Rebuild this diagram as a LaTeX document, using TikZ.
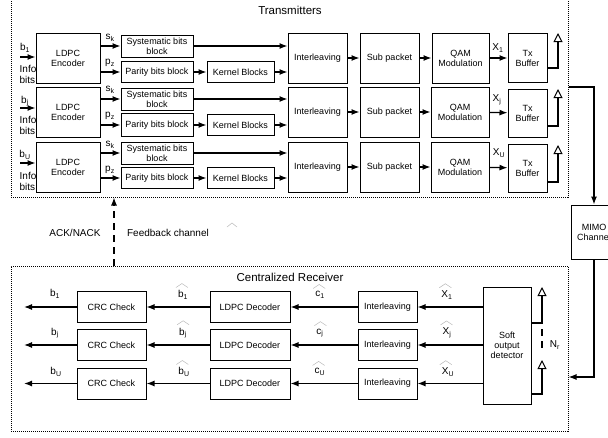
\documentclass[tikz,border=0pt]{standalone}
\usepackage{fontspec}
\setmainfont{Liberation Sans}
\usetikzlibrary{arrows.meta}
\tikzset{
  blk/.style={draw,line width=1pt,align=center,inner sep=1pt,font=\fontsize{9}{10}\selectfont},
  lbl/.style={inner sep=0pt,font=\fontsize{10}{11}\selectfont},
  frame/.style={draw,densely dotted,line width=1pt,inner sep=0pt},
  ant/.style={line width=1.1pt,-{Triangle[open,length=9pt,width=9pt,line width=1pt]}},
  hatln/.style={draw=gray!55,line width=0.5pt},
}
\begin{document}
\begin{tikzpicture}[x=1pt,y=-1pt,>={Latex[length=8pt,width=6pt]},line width=1.2pt]
    \clip (0,0) rectangle (608,437);
    %%% frames
    \node[frame,minimum width=557pt,minimum height=198pt] (tx) at (289.5,98) {};
    \node[frame,minimum width=557pt,minimum height=165pt] (rx) at (289.5,348.5) {};
    \node at (290,10) [font=\fontsize{11.5}{12}\selectfont] {Transmitters};
    \node at (290,277) [font=\fontsize{11.5}{12}\selectfont] {Centralized Receiver};
    %% Transmitter row 1
    \node at (68,58) [blk,minimum width=64pt,minimum height=50pt] (enc1) {LDPC\\Encoder};
    \node at (157,46) [blk,minimum width=72pt,minimum height=22pt] (sys1) {Systematic bits\\block};
    \node at (157,72) [blk,minimum width=72pt,minimum height=21pt] (par1) {Parity bits block};
    \node at (240.5,72) [blk,minimum width=67pt,minimum height=21pt] (ker1) {Kernel Blocks};
    \node at (317.5,58) [blk,minimum width=59pt,minimum height=50pt] (int1) {Interleaving};
    \node at (389.5,58) [blk,minimum width=59pt,minimum height=50pt] (sub1) {Sub packet};
    \node at (460.5,58) [blk,minimum width=57pt,minimum height=50pt] (qam1) {QAM\\Modulation};
    \node at (527.5,58) [blk,minimum width=39pt,minimum height=49pt] (buf1) {Tx\\Buffer};
    \coordinate (in1) at (20,57);
    \coordinate (a1) at (558,33);
    \node at (25,48) [lbl] {b\textsubscript{1}};
    \node at (28,74) [lbl,align=left] {Info\\bits};
    \node at (110,38) [lbl] {s\textsubscript{k}};
    \node at (110,63) [lbl] {p\textsubscript{z}};
    \node at (498,48) [lbl] {X\textsubscript{1}};
    % row 2
    \node at (68,112) [blk,minimum width=64pt,minimum height=50pt] (enc2) {LDPC\\Encoder};
    \node at (157,99) [blk,minimum width=72pt,minimum height=22pt] (sys2) {Systematic bits\\block};
    \node at (157,125) [blk,minimum width=72pt,minimum height=23pt] (par2) {Parity bits block};
    \node at (240.5,125) [blk,minimum width=67pt,minimum height=21pt] (ker2) {Kernel Blocks};
    \node at (317.5,112) [blk,minimum width=59pt,minimum height=50pt] (int2) {Interleaving};
    \node at (389.5,112) [blk,minimum width=59pt,minimum height=50pt] (sub2) {Sub packet};
    \node at (460,112) [blk,minimum width=58pt,minimum height=50pt] (qam2) {QAM\\Modulation};
    \node at (527.5,113) [blk,minimum width=39pt,minimum height=48pt] (buf2) {Tx\\Buffer};
    \coordinate (in2) at (20,108);
    \coordinate (a2) at (558,89);
    \node at (25,101) [lbl] {b\textsubscript{j}};
    \node at (28,125) [lbl,align=left] {Info\\bits};
    \node at (110,90) [lbl] {s\textsubscript{k}};
    \node at (110,116) [lbl] {p\textsubscript{z}};
    \node at (497,100) [lbl] {X\textsubscript{j}};
    % row 3
    \node at (68,167) [blk,minimum width=64pt,minimum height=50pt] (enc3) {LDPC\\Encoder};
    \node at (157,153) [blk,minimum width=72pt,minimum height=22pt] (sys3) {Systematic bits\\block};
    \node at (157,178) [blk,minimum width=72pt,minimum height=21pt] (par3) {Parity bits block};
    \node at (240.5,178) [blk,minimum width=67pt,minimum height=21pt] (ker3) {Kernel Blocks};
    \node at (317.5,167) [blk,minimum width=59pt,minimum height=50pt] (int3) {Interleaving};
    \node at (389.5,167) [blk,minimum width=59pt,minimum height=50pt] (sub3) {Sub packet};
    \node at (460,167) [blk,minimum width=58pt,minimum height=50pt] (qam3) {QAM\\Modulation};
    \node at (527.5,168) [blk,minimum width=39pt,minimum height=48pt] (buf3) {Tx\\Buffer};
    \coordinate (in3) at (20,163);
    \coordinate (a3) at (558,145);
    \node at (25,155) [lbl] {b\textsubscript{U}};
    \node at (28,181) [lbl,align=left] {Info\\bits};
    \node at (110,145) [lbl] {s\textsubscript{k}};
    \node at (110,170) [lbl] {p\textsubscript{z}};
    \node at (499,153) [lbl] {X\textsubscript{U}};
    %% channel and feedback
    \node at (594,232) [blk,minimum width=46pt,minimum height=54pt] (mimo) {MIMO\\Channel};
    \coordinate (fbx) at (114,230);
    \node at (75,233) [lbl] {ACK/NACK};
    \node at (168,233) [lbl] {Feedback channel};
    \draw[hatln] (227,227) -- ++(5,-4) -- ++(5,4);
    %% Receiver
    \node at (507,345.5) [blk,minimum width=48pt,minimum height=117pt] (det) {Soft\\output\\detector};
    \node at (387.5,307) [blk,minimum width=59pt,minimum height=31pt] (rint1) {Interleaving};
    \node at (250,307) [blk,minimum width=80pt,minimum height=31pt] (dec1) {LDPC Decoder};
    \node at (111.5,307) [blk,minimum width=69pt,minimum height=31pt] (crc1) {CRC Check};
    \node at (387.5,345) [blk,minimum width=59pt,minimum height=31pt] (rint2) {Interleaving};
    \node at (250,345) [blk,minimum width=80pt,minimum height=31pt] (dec2) {LDPC Decoder};
    \node at (111.5,345) [blk,minimum width=69pt,minimum height=31pt] (crc2) {CRC Check};
    \node at (387.5,383.5) [blk,minimum width=59pt,minimum height=31pt] (rint3) {Interleaving};
    \node at (250,383.5) [blk,minimum width=80pt,minimum height=31pt] (dec3) {LDPC Decoder};
    \node at (111.5,383.5) [blk,minimum width=69pt,minimum height=31pt] (crc3) {CRC Check};
    \coordinate (o1) at (24,307);
    \coordinate (o2) at (24,345);
    \coordinate (o3) at (24,383.5);
    \coordinate (r1) at (542,287);
    \coordinate (r2) at (542,360);
    \node at (447,295) [lbl] (xh1) {X\textsubscript{1}};
    \node at (447,333) [lbl] (xh2) {X\textsubscript{j}};
    \node at (448,372) [lbl] (xh3) {X\textsubscript{U}};
    \node at (320,295) [lbl] (ch1) {c\textsubscript{1}};
    \node at (320,333) [lbl] (ch2) {c\textsubscript{j}};
    \node at (320,372) [lbl] (ch3) {c\textsubscript{U}};
    \node at (183,295) [lbl] (bh1) {b\textsubscript{1}};
    \node at (183,333) [lbl] (bh2) {b\textsubscript{j}};
    \node at (184,372) [lbl] (bh3) {b\textsubscript{U}};
    \foreach \h in {xh1,xh2,xh3,ch1,ch2,ch3,bh1,bh2,bh3}
      \draw[hatln] ([shift={(-1.5pt,2.5pt)}]\h.north west) -- ++(6,-4) -- ++(6,4);
    \node at (55,294) [lbl] {b\textsubscript{1}};
    \node at (55,333) [lbl] {b\textsubscript{j}};
    \node at (56,372) [lbl] {b\textsubscript{U}};
    \node at (555,345) [lbl] {N\textsubscript{r}};

    %% connectors
    \draw[->] (in1) -- (in1 -| enc1.west);
    \draw[->] (in2) -- (in2 -| enc2.west);
    \draw[->] (in3) -- (in3 -| enc3.west);
    \draw[->] (enc1.east |- sys1) -- (sys1);
    \draw[->] (enc1.east |- par1) -- (par1);
    \draw[->] (enc2.east |- sys2) -- (sys2);
    \draw[->] (enc2.east |- par2) -- (par2);
    \draw[->] (enc3.east |- sys3) -- (sys3);
    \draw[->] (enc3.east |- par3) -- (par3);
    \draw[->] (sys1) -- (sys1 -| int1.west);
    \draw[->] (sys2) -- (sys2 -| int2.west);
    \draw[->] (sys3) -- (sys3 -| int3.west);
    \path
    (par1) edge [->] (ker1)
    (par2) edge [->] (ker2)
    (par3) edge [->] (ker3)
    (int1) edge [->] (sub1)
    (int2) edge [->] (sub2)
    (int3) edge [->] (sub3)
    (sub1) edge [->] (qam1)
    (sub2) edge [->] (qam2)
    (sub3) edge [->] (qam3)
    (qam1) edge [->] (buf1)
    (qam2) edge [->] (buf2)
    (qam3) edge [->] (buf3);
    \draw[->] (ker1) -- (ker1 -| int1.west);
    \draw[->] (ker2) -- (ker2 -| int2.west);
    \draw[->] (ker3) -- (ker3 -| int3.west);
    \draw[ant] ([yshift=-10pt]buf1.east) -| (a1);
    \draw[ant] ([yshift=-13pt]buf2.east) -| (a2);
    \draw[ant] ([yshift=-14pt]buf3.east) -| (a3);
    \draw[->] ([yshift=11pt]tx.east) -| (mimo.north);
    \draw[->] (mimo.south) |- ([yshift=-28.5pt]rx.east);
    \draw[->,dash pattern=on 7pt off 5pt] (fbx |- rx.north) -- (fbx |- tx.south);
    \draw[->] (det.west |- rint1) -- (rint1);
    \draw[->] (det.west |- rint2) -- (rint2);
    \draw[->] (det.west |- rint3) -- (rint3);
    \path
    (rint1) edge [->] (dec1)
    (rint2) edge [->] (dec2)
    (rint3) edge [->] (dec3)
    (dec1) edge [->] (crc1)
    (dec2) edge [->] (crc2)
    (dec3) edge [->] (crc3);
    \draw[->] (crc1) -- (o1);
    \draw[->] (crc2) -- (o2);
    \draw[->] (crc3) -- (o3);
    \draw[ant] ([yshift=22.5pt]det.east) -| (r1);
    \draw[ant] ([yshift=-48.5pt]det.east) -| (r2);
    \draw[dash pattern=on 7pt off 5pt] (r1 |- 0,329) -- (r1 |- 0,353);
\end{tikzpicture}
\end{document}
